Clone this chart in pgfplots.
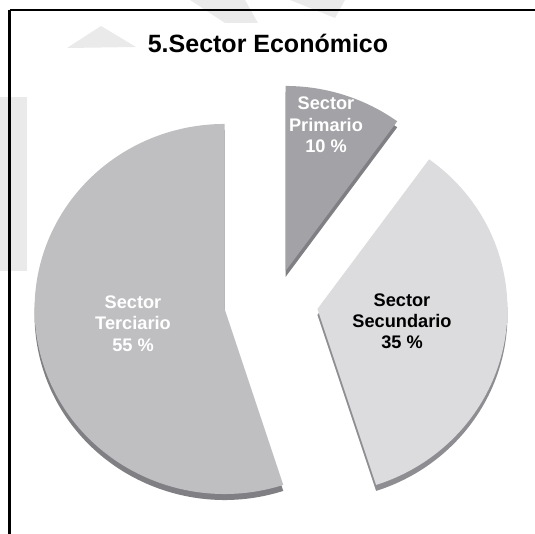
\documentclass[border=0pt]{standalone}
\usepackage{pgfplots}
\pgfplotsset{compat=1.18}
\usepackage{pgfplotstable}
\usepackage{fontspec}
\setmainfont{Liberation Sans}

\pgfplotstableread{
sector value
Primario 10
Secundario 35
Terciario 55
}\datatable

\definecolor{cPri}{RGB}{163,163,167}
\definecolor{cSec}{RGB}{220,220,222}
\definecolor{cTer}{RGB}{191,191,194}
\definecolor{rimA}{RGB}{128,128,132}
\definecolor{rimB}{RGB}{142,142,146}
\definecolor{wmark}{RGB}{234,234,234}

% slice: #1 start (math deg), #2 end, #3 face colour, #4 rim colour
\newcommand{\slice}[4]{%
  \pgfmathsetmacro{\smid}{(#1+#2)/2}%
  \pgfmathsetmacro{\sax}{271+47*cos(\smid)}%
  \pgfmathsetmacro{\say}{229.4+47*0.73*sin(\smid)}%
  \edef\doslice{%
  \noexpand\fill[#4] ([yshift=-6pt]axis cs:\sax,\say) -- ++(#1:190pt and 185pt)
     arc[start angle=#1, end angle=#2, x radius=190pt, y radius=185pt] -- cycle;
  \noexpand\fill[#3] (axis cs:\sax,\say) -- ++(#1:190pt and 185pt)
     arc[start angle=#1, end angle=#2, x radius=190pt, y radius=185pt] -- cycle;}%
  \doslice
}

\begin{document}
\begin{tikzpicture}
\pgfplotstablegetelem{0}{value}\of\datatable \edef\vA{\pgfplotsretval}
\pgfplotstablegetelem{1}{value}\of\datatable \edef\vB{\pgfplotsretval}
\pgfplotstablegetelem{2}{value}\of\datatable \edef\vC{\pgfplotsretval}
\pgfmathsetmacro{\aA}{90}
\pgfmathsetmacro{\aB}{90-3.6*\vA}
\pgfmathsetmacro{\aC}{90-3.6*(\vA+\vB)}
\pgfmathsetmacro{\aD}{90-3.6*(\vA+\vB+\vC)}
\begin{axis}[name=ax, width=535pt, height=533pt, scale only axis,
  xmin=0, xmax=535, ymin=0, ymax=533, axis lines=none, clip=true]
  % watermark
  \fill[wmark] (axis cs:67,485) -- (axis cs:101,507) -- (axis cs:136,486) -- cycle;
  \fill[wmark] (axis cs:0,436) rectangle (axis cs:27,262);
  \fill[wmark] (axis cs:190,533) -- (axis cs:245,533) -- (axis cs:258,510) -- (axis cs:225,510) -- cycle;
  \fill[wmark] (axis cs:290,533) -- (axis cs:345,533) -- (axis cs:335,515) -- cycle;
  % frame
  \draw[black, line width=2.6pt] (axis cs:9.5,523) -- (axis cs:560,523);
  \draw[black, line width=2.6pt] (axis cs:9.5,523) -- (axis cs:9.5,-20);
  % slices
  \slice{\aA}{\aB}{cPri}{rimA}
  \slice{\aB}{\aC}{cSec}{rimB}
  \slice{\aC}{\aD}{cTer}{rimA}
  % title
  \node[anchor=base, font=\bfseries\fontsize{25}{30}\selectfont] at (axis cs:268,480) {5.Sector Económico};
  % labels
  \begin{scope}[every node/.style={anchor=base, font=\bfseries\fontsize{18.2}{21}\selectfont}]
  \node[white] at (axis cs:326,423) {Sector};
  \node[white] at (axis cs:326,401.5) {Primario};
  \node[white] at (axis cs:326,380) {\vA\ \%};
  \node[black] at (axis cs:402,226) {Sector};
  \node[black] at (axis cs:402,205) {Secundario};
  \node[black] at (axis cs:402,184) {\vB\ \%};
  \node[white] at (axis cs:133,224) {Sector};
  \node[white] at (axis cs:133,203) {Terciario};
  \node[white] at (axis cs:133,182) {\vC\ \%};
  \end{scope}
\end{axis}
\pgfresetboundingbox
\useasboundingbox (ax.south west) rectangle (ax.north east);
\end{tikzpicture}
\end{document}
